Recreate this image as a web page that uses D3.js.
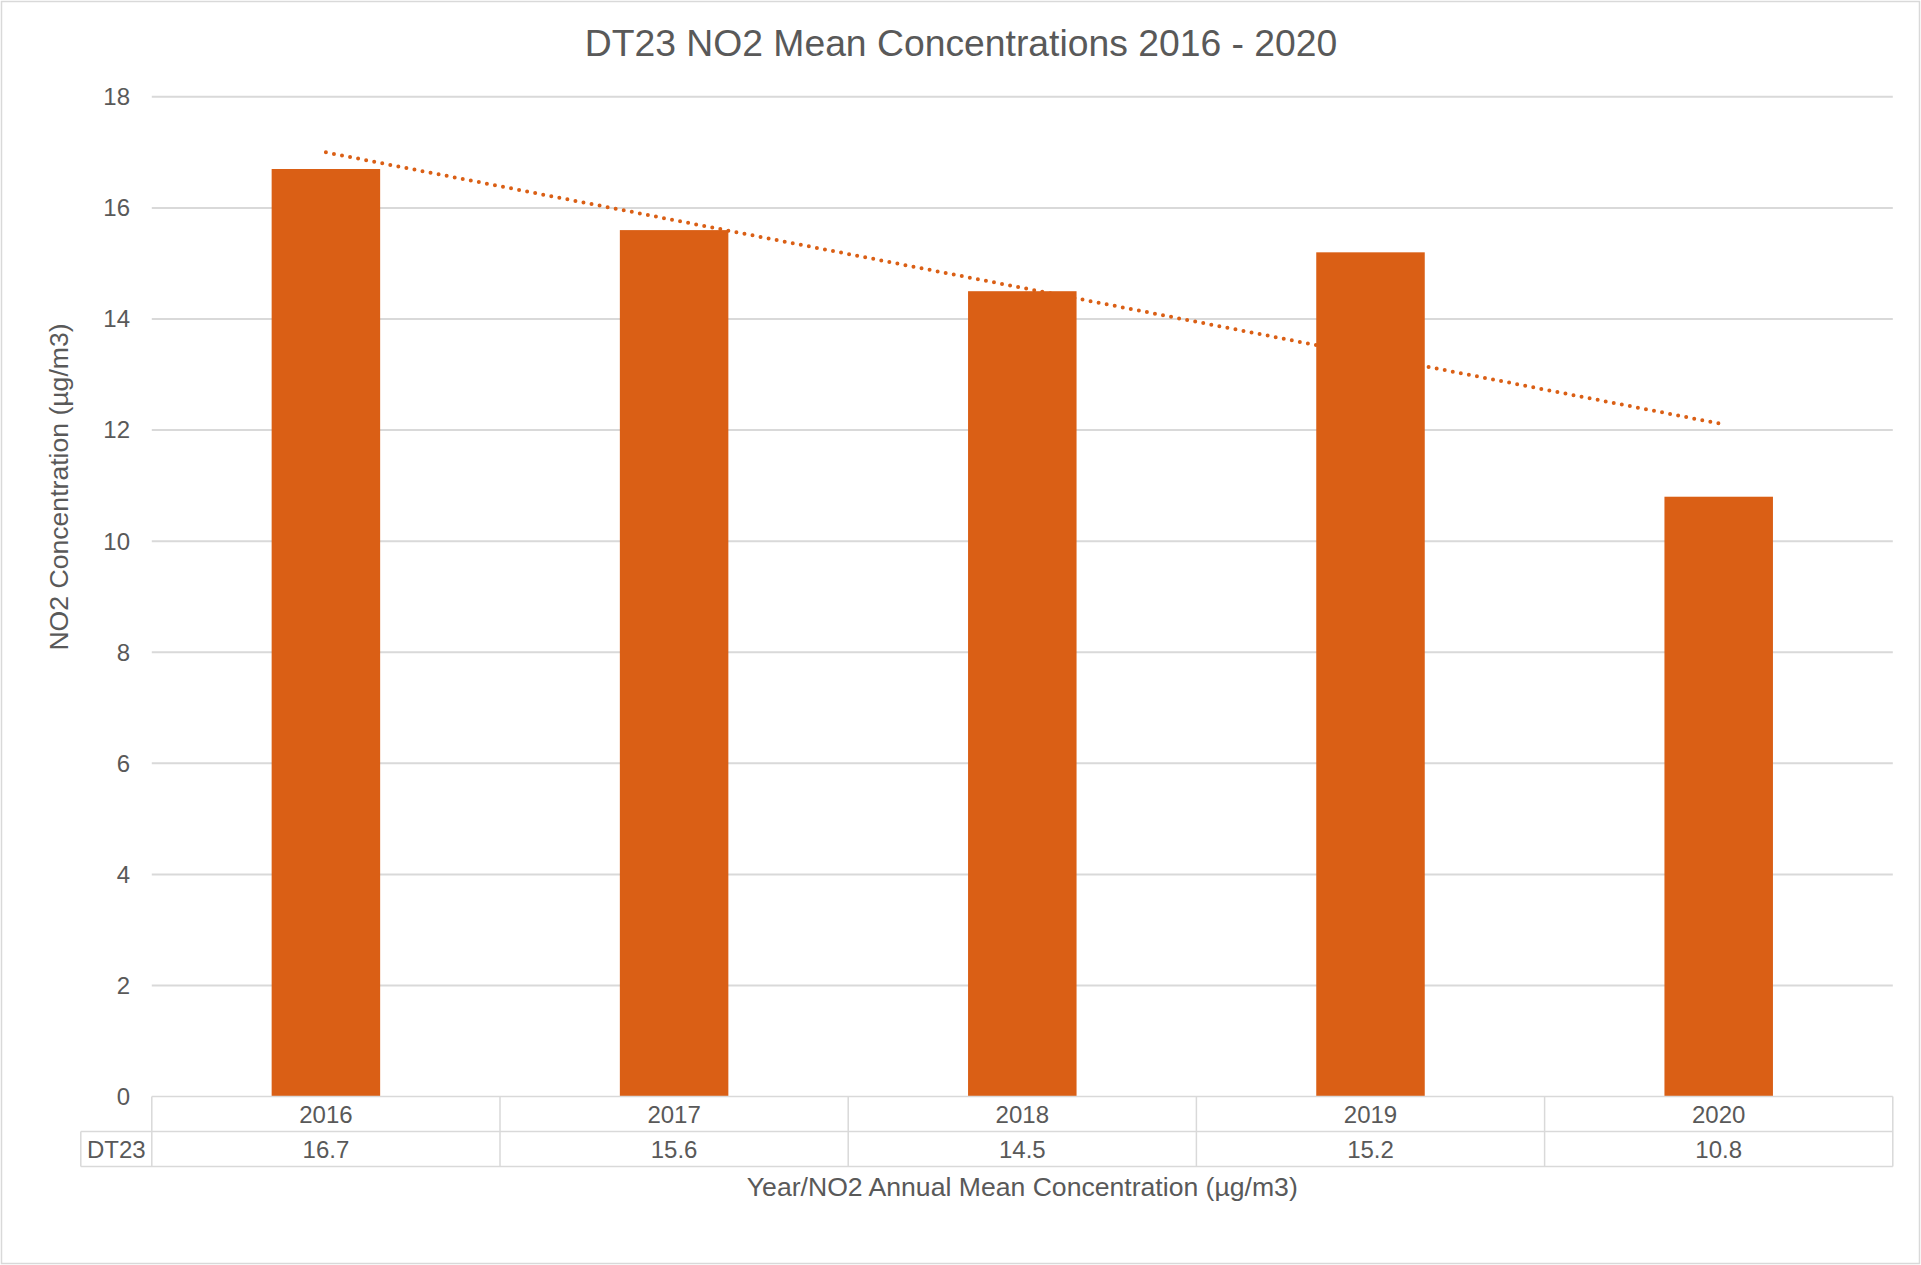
<!DOCTYPE html>
<html>
<head>
<meta charset="utf-8">
<script src="https://cdn.jsdelivr.net/npm/d3@7"></script>
<style>
  html, body { margin: 0; padding: 0; background: #fff; }
  svg { display: block; }
  text { font-family: "Liberation Sans", Arial, sans-serif; fill: #595959; }
</style>
</head>
<body>
<script>
const years = ["2016", "2017", "2018", "2019", "2020"];
const values = [16.7, 15.6, 14.5, 15.2, 10.8];
const seriesName = "DT23";
const yTicks = [0, 2, 4, 6, 8, 10, 12, 14, 16, 18];
const titleText = "DT23 NO2 Mean Concentrations 2016 - 2020";
const yTitle = "NO2 Concentration (µg/m3)";
const xTitle = "Year/NO2 Annual Mean Concentration (µg/m3)";

(function () {
const W = 1921, H = 1265;
const pLeft = 151.8, pRight = 1892.8, pTop = 96.8, pBottom = 1096.6;
const rowH = 35;
const grey = "#D9D9D9", orange = "#DA5F15";

const svg = d3.select("body").append("svg").attr("width", W).attr("height", H);

// outer border
svg.append("rect").attr("x", 1.5).attr("y", 1.5).attr("width", W - 3).attr("height", H - 3)
  .attr("fill", "#fff").attr("stroke", grey).attr("stroke-width", 1.5);

const y = d3.scaleLinear().domain([0, 18]).range([pBottom, pTop]);
const xCat = d3.scaleBand().domain(years).range([pLeft, pRight]).padding(0);
const pBar = 1 - 108.5 / 348.2;
const xBar = d3.scaleBand().domain(years).range([pLeft, pRight]).paddingInner(pBar).paddingOuter(pBar / 2);

// gridlines
svg.append("g").selectAll("line").data(yTicks.filter(t => t > 0)).join("line")
  .attr("x1", pLeft).attr("x2", pRight)
  .attr("y1", d => y(d)).attr("y2", d => y(d))
  .attr("stroke", grey).attr("stroke-width", 2);

// y tick labels
svg.append("g").selectAll("text").data(yTicks).join("text")
  .attr("x", 130).attr("y", d => y(d)).attr("dy", "0.35em")
  .attr("text-anchor", "end").style("font-size", "24px")
  .text(d => d);

// trendline (least squares on category index), drawn behind bars
const n = values.length;
const xs = values.map((v, i) => i + 1);
const mx = d3.mean(xs), my = d3.mean(values);
const slope = d3.sum(xs.map((xv, i) => (xv - mx) * (values[i] - my))) / d3.sum(xs.map(xv => (xv - mx) ** 2));
const icpt = my - slope * mx;
const cx = i => xCat(years[i]) + xCat.bandwidth() / 2;
svg.append("line")
  .attr("x1", cx(0)).attr("y1", y(icpt + slope * 1))
  .attr("x2", cx(n - 1)).attr("y2", y(icpt + slope * n))
  .attr("stroke", orange).attr("stroke-width", 4)
  .attr("stroke-linecap", "round").attr("stroke-dasharray", "0 8.2");

// bars
svg.append("g").selectAll("rect").data(values).join("rect")
  .attr("x", (d, i) => xBar(years[i]))
  .attr("width", xBar.bandwidth())
  .attr("y", d => y(d))
  .attr("height", d => y(0) - y(d))
  .attr("fill", orange);

// data table
const tbl = svg.append("g").attr("stroke", grey).attr("stroke-width", 1.5).attr("fill", "none");
const tLeft = 80.8;
tbl.append("line").attr("x1", pLeft).attr("x2", pRight).attr("y1", pBottom).attr("y2", pBottom);
tbl.append("line").attr("x1", tLeft).attr("x2", pRight).attr("y1", pBottom + rowH).attr("y2", pBottom + rowH);
tbl.append("line").attr("x1", tLeft).attr("x2", pRight).attr("y1", pBottom + 2 * rowH).attr("y2", pBottom + 2 * rowH);
tbl.append("line").attr("x1", tLeft).attr("x2", tLeft).attr("y1", pBottom + rowH).attr("y2", pBottom + 2 * rowH);
tbl.selectAll("line.v").data(years.concat(["end"])).join("line").attr("class", "v")
  .attr("x1", (d, i) => i < years.length ? xCat(d) : pRight)
  .attr("x2", (d, i) => i < years.length ? xCat(d) : pRight)
  .attr("y1", pBottom).attr("y2", pBottom + 2 * rowH);

svg.append("g").selectAll("text").data(years).join("text")
  .attr("x", d => xCat(d) + xCat.bandwidth() / 2).attr("y", pBottom + rowH / 2).attr("dy", "0.35em")
  .attr("text-anchor", "middle").style("font-size", "24px").text(d => d);
svg.append("g").selectAll("text").data(values).join("text")
  .attr("x", (d, i) => xCat(years[i]) + xCat.bandwidth() / 2).attr("y", pBottom + rowH * 1.5).attr("dy", "0.35em")
  .attr("text-anchor", "middle").style("font-size", "24px").text(d => d.toFixed(1));
svg.append("text").attr("x", (tLeft + pLeft) / 2).attr("y", pBottom + rowH * 1.5).attr("dy", "0.35em")
  .attr("text-anchor", "middle").style("font-size", "24px").text(seriesName);

// titles
svg.append("text").attr("x", 961).attr("y", 56).attr("text-anchor", "middle")
  .style("font-size", "37.3px").text(titleText);
svg.append("text").attr("x", (pLeft + pRight) / 2).attr("y", 1196).attr("text-anchor", "middle")
  .style("font-size", "26.6px").text(xTitle);
svg.append("text").attr("transform", "translate(68,487) rotate(-90)").attr("text-anchor", "middle")
  .style("font-size", "26.6px").text(yTitle);
})();
</script>
</body>
</html>
